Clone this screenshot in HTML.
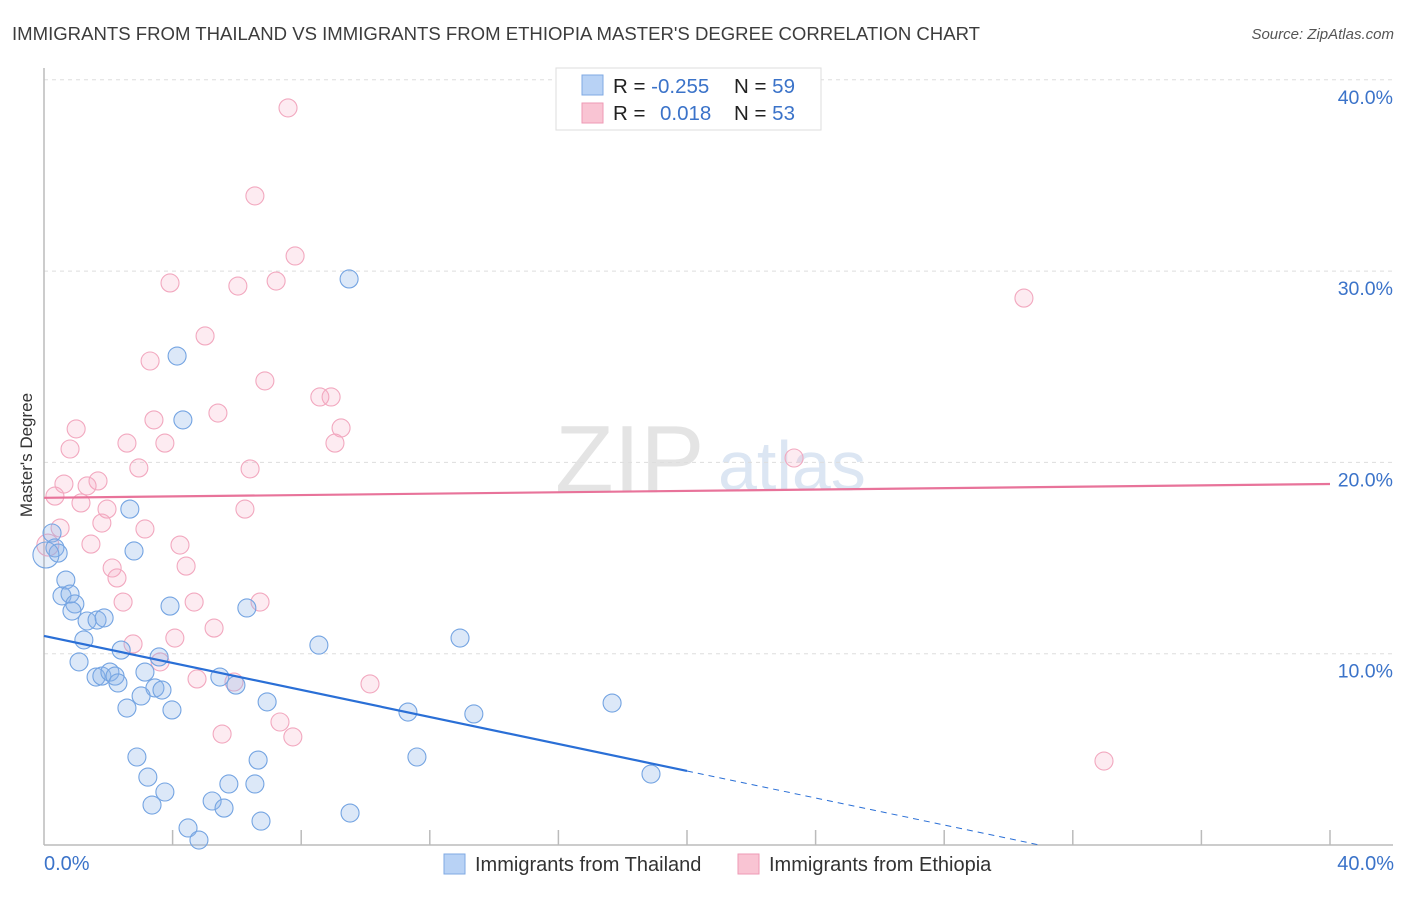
<!DOCTYPE html>
<html><head><meta charset="utf-8"><style>
body{margin:0;background:#fff;font-family:"Liberation Sans",sans-serif}
svg text{font-family:"Liberation Sans",sans-serif}
</style></head><body>
<svg width="1406" height="892" xmlns="http://www.w3.org/2000/svg">
<text x="12" y="40" font-size="18" fill="#3c3c3c" textLength="968" lengthAdjust="spacingAndGlyphs">IMMIGRANTS FROM THAILAND VS IMMIGRANTS FROM ETHIOPIA MASTER'S DEGREE CORRELATION CHART</text>
<text x="1394" y="39" font-size="15" fill="#555" text-anchor="end" font-style="italic">Source: ZipAtlas.com</text>
<g>
<text x="555" y="492" font-size="96" fill="#e4e4e4" font-family="Liberation Serif">ZIP</text>
<text x="718" y="490" font-size="70" fill="#dce6f3">atlas</text>
</g>
<g id="grid"></g>
<line x1="44" y1="68" x2="44" y2="845" stroke="#bbb" stroke-width="1.5"/>
<line x1="44" y1="845" x2="1393" y2="845" stroke="#bbb" stroke-width="1.5"/>
<g id="xticks"></g>
<text x="32" y="455" font-size="17" fill="#333" text-anchor="middle" transform="rotate(-90 32 455)">Master's Degree</text>
<text x="44" y="870" font-size="20" fill="#3b73c9">0.0%</text>
<text x="1394" y="870" font-size="20" fill="#3b73c9" text-anchor="end">40.0%</text>
<g id="pts"></g>
<g id="lines"></g>
<g>
<rect x="556" y="68" width="265" height="62" fill="#fff" stroke="#ddd"/>
<rect x="582" y="75" width="21" height="20" fill="#b8d2f5" stroke="#7fa9e3"/>
<rect x="582" y="103" width="21" height="20" fill="#f9c4d3" stroke="#ee9ab4"/>
<text x="613" y="93" font-size="20.5" fill="#222">R = <tspan fill="#3b73c9">-0.255</tspan></text>
<text x="734" y="93" font-size="20.5" fill="#222">N = <tspan fill="#3b73c9">59</tspan></text>
<text x="613" y="120" font-size="20.5" fill="#222">R = <tspan fill="#3b73c9" x="660">0.018</tspan></text>
<text x="734" y="120" font-size="20.5" fill="#222">N = <tspan fill="#3b73c9">53</tspan></text>
</g>
<g>
<rect x="444" y="854" width="21" height="20" fill="#b8d2f5" stroke="#7fa9e3"/>
<text x="475" y="871" font-size="20" fill="#333">Immigrants from Thailand</text>
<rect x="738" y="854" width="21" height="20" fill="#f9c4d3" stroke="#ee9ab4"/>
<text x="769" y="871" font-size="20" fill="#333">Immigrants from Ethiopia</text>
</g>
</svg>
<script>
const yTicks=[10,20,30,40];
const yTickLabels=["10.0%","20.0%","30.0%","40.0%"];
const blueX=[9.49,4.14,4.32,2.67,2.80,0.25,0.34,0.44,0.68,0.56,0.81,0.96,0.87,1.34,1.65,1.87,1.24,2.40,1.09,3.92,6.31,3.58,1.62,1.80,2.05,2.21,2.30,3.14,3.45,3.67,3.02,2.58,3.98,5.47,5.97,6.94,8.55,12.94,11.32,13.37,17.67,2.89,3.23,3.76,3.36,5.75,6.56,6.66,5.23,5.60,6.75,4.48,4.82,9.52,11.60,18.88,0.06];
const blueY=[29.59,25.56,22.22,17.56,15.37,16.31,15.53,15.26,13.85,13.02,13.12,12.60,12.23,11.71,11.76,11.87,10.72,10.19,9.57,12.49,12.39,9.83,8.78,8.83,9.04,8.83,8.47,9.04,8.21,8.10,7.79,7.16,7.06,8.78,8.36,7.48,10.45,10.82,6.95,6.85,7.42,4.60,3.55,2.77,2.09,3.19,3.19,4.44,2.30,1.93,1.25,0.89,0.26,1.67,4.60,3.71,15.16];
const pinkX=[7.59,6.56,7.81,3.92,6.03,7.22,30.48,5.01,3.30,6.87,5.41,3.42,3.76,2.58,8.58,8.93,9.24,9.05,1.00,0.81,6.41,2.95,1.68,0.62,1.34,0.34,1.15,1.96,6.25,0.50,1.80,3.14,1.46,4.23,4.42,2.12,2.27,2.46,4.67,6.72,5.29,4.07,2.77,3.61,4.76,5.91,10.14,7.34,7.74,5.54,23.33,32.97,0.12];
const pinkY=[38.53,33.93,30.79,29.38,29.22,29.48,28.59,26.61,25.30,24.26,22.58,22.22,21.01,21.01,23.42,23.42,21.80,21.01,21.75,20.70,19.66,19.71,19.03,18.87,18.77,18.24,17.88,17.56,17.56,16.57,16.83,16.52,15.73,15.68,14.58,14.48,13.96,12.70,12.70,12.70,11.34,10.82,10.51,9.57,8.68,8.52,8.42,6.43,5.65,5.80,20.23,4.39,15.68];
const blueFit=[10.93,-0.353];
const pinkFit=[18.15,0.018];
const NS="http://www.w3.org/2000/svg";
const sx=v=>44+v*32.15, sy=v=>845-v*19.13;
function mk(t,a,p){const e=document.createElementNS(NS,t);for(const k in a)e.setAttribute(k,a[k]);p.appendChild(e);return e;}
const grid=document.getElementById('grid');
yTicks.forEach((t,i)=>{
 const l=mk('line',{x1:44,x2:1393,y1:sy(t),y2:sy(t),stroke:'#ddd','stroke-dasharray':'4,4'},grid);
 
 
 const tx=mk('text',{x:1393,y:sy(t)+24,'font-size':19.5,fill:'#3b73c9','text-anchor':'end'},grid);
 tx.textContent=yTickLabels[i];
 
 
});
const xt=document.getElementById('xticks');
for(let i=1;i<=10;i++){const v=i*4;
 const l=mk('line',{x1:sx(v),x2:sx(v),y1:830,y2:845,stroke:'#bbb','stroke-width':1.5},xt);
 
 
}
const pts=document.getElementById('pts');
pinkX.forEach((x,i)=>{const c=mk('circle',{cx:sx(x),cy:sy(pinkY[i]),r:i==52?11:9,fill:'rgba(244,165,190,0.22)',stroke:'#f2a8bf','stroke-width':1.1},pts);
 
 });
blueX.forEach((x,i)=>{const c=mk('circle',{cx:sx(x),cy:sy(blueY[i]),r:i==56?13:9,fill:i==56?'rgba(140,180,232,0.2)':'rgba(140,180,232,0.3)',stroke:'#74a4e2','stroke-width':1.1},pts);
 
 });
const ln=document.getElementById('lines');
const bf=x=>blueFit[0]+blueFit[1]*x, pf=x=>pinkFit[0]+pinkFit[1]*x;
let a=mk('line',{x1:sx(0),y1:sy(bf(0)),x2:sx(20),y2:sy(bf(20)),stroke:'#2a6fd6','stroke-width':2.2},ln);


const xe=-blueFit[0]/blueFit[1];
a=mk('line',{x1:sx(20),y1:sy(bf(20)),x2:sx(xe),y2:sy(0),stroke:'#2a6fd6','stroke-width':1,'stroke-dasharray':'6,5'},ln);


a=mk('line',{x1:sx(0),y1:sy(pf(0)),x2:sx(40),y2:sy(pf(40)),stroke:'#e8739a','stroke-width':2.2},ln);


</script>
</body></html>
